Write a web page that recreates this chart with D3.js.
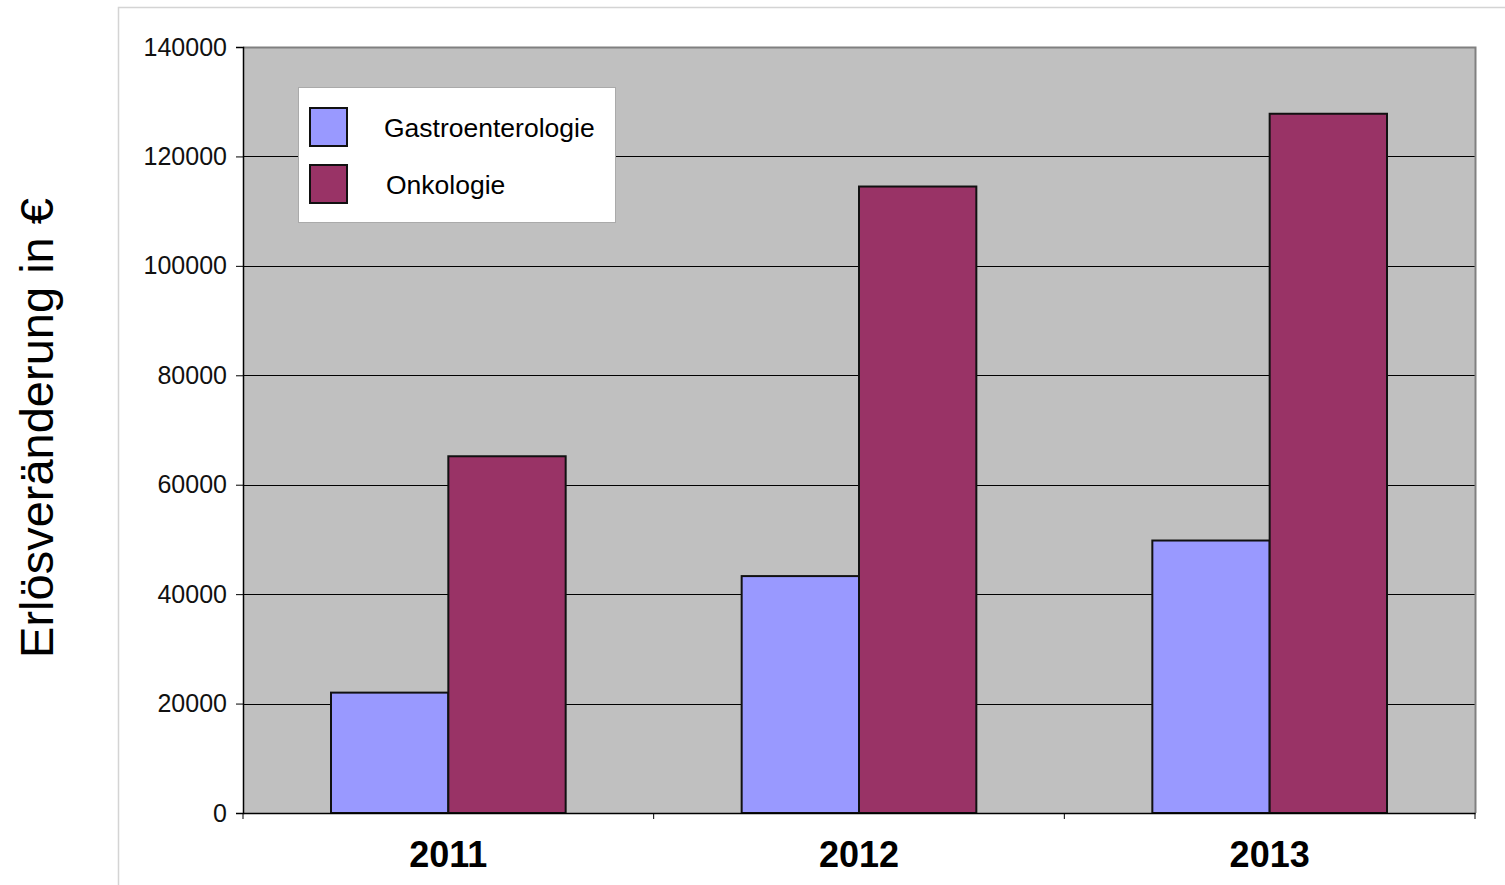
<!DOCTYPE html>
<html>
<head>
<meta charset="utf-8">
<script src="https://cdn.jsdelivr.net/npm/d3@7"></script>
<style>
  body { margin: 0; background: #fff; }
  svg { display: block; font-family: "Liberation Sans", Arial, sans-serif; }
</style>
</head>
<body>
<svg id="chart" width="1505" height="885"></svg>
<script>
var years       = ['2011', '2012', '2013'];
var seriesNames = ['Gastroenterologie', 'Onkologie'];
var gastro      = [22000, 43300, 49800];
var onko        = [65200, 114500, 127800];
var yTicks      = [0, 20000, 40000, 60000, 80000, 100000, 120000, 140000];
var colors      = ['#9999ff', '#993366'];

var svg = d3.select('#chart');
var pLeft = 243, pRight = 1475, pTop = 47, pBottom = 813;

// outer frame
svg.append('path')
   .attr('d', 'M118.5,885 V7.5 H1505')
   .attr('fill', 'none')
   .attr('stroke', '#d4d4d4')
   .attr('stroke-width', 1.5);

var x0 = d3.scaleBand().domain(years).range([pLeft, pRight]);
var x1 = d3.scaleBand().domain(seriesNames)
           .range([0, x0.bandwidth()]).paddingOuter(0.75).paddingInner(0);
var y  = d3.scaleLinear().domain([0, 140000]).range([pBottom, pTop]);

// plot background
svg.append('rect')
   .attr('x', pLeft).attr('y', pTop)
   .attr('width', pRight - pLeft).attr('height', pBottom - pTop)
   .attr('fill', '#c0c0c0');

// gridlines
svg.append('g').selectAll('line')
   .data(yTicks.slice(1, -1))
   .enter().append('line')
   .attr('x1', pLeft).attr('x2', pRight)
   .attr('y1', function(d) { return Math.round(y(d)) + 0.5; })
   .attr('y2', function(d) { return Math.round(y(d)) + 0.5; })
   .attr('stroke', '#000').attr('stroke-width', 1);

// top / right border
svg.append('path')
   .attr('d', 'M' + pLeft + ',' + (pTop + 0.5) + ' H' + (pRight + 0.5) + ' V' + pBottom)
   .attr('fill', 'none').attr('stroke', '#808080').attr('stroke-width', 2);

// bars
var rows = years.map(function(yr, i) {
  return { year: yr, values: [gastro[i], onko[i]] };
});
var groups = svg.append('g').selectAll('g')
   .data(rows).enter().append('g')
   .attr('transform', function(d) { return 'translate(' + x0(d.year) + ',0)'; });
groups.selectAll('rect')
   .data(function(d) { return d.values.map(function(v, j) { return { s: seriesNames[j], v: v, c: colors[j] }; }); })
   .enter().append('rect')
   .attr('x', function(d) { return x1(d.s); })
   .attr('y', function(d) { return y(d.v); })
   .attr('width', x1.bandwidth())
   .attr('height', function(d) { return pBottom - y(d.v); })
   .attr('fill', function(d) { return d.c; })
   .attr('stroke', '#111').attr('stroke-width', 2);

// y axis
var yAxis = svg.append('g')
   .attr('transform', 'translate(' + pLeft + ',0)')
   .call(d3.axisLeft(y).tickValues(yTicks).tickSize(7).tickPadding(9).tickFormat(d3.format('d')));
yAxis.select('.domain').attr('stroke', '#000').attr('stroke-width', 1.5);
yAxis.selectAll('text').attr('font-size', 25).attr('fill', '#111').attr('font-family', 'Liberation Sans, Arial, sans-serif');

// x axis
var xAxis = svg.append('g')
   .attr('transform', 'translate(0,' + pBottom + ')')
   .call(d3.axisBottom(x0).tickSize(0).tickPadding(28));
xAxis.select('.domain').attr('stroke', '#000').attr('stroke-width', 1.5);
xAxis.selectAll('text').attr('font-size', 36).attr('font-weight', 'bold').attr('fill', '#000')
     .attr('font-family', 'Liberation Sans, Arial, sans-serif');
svg.append('g').selectAll('line')
   .data(d3.range(years.length + 1))
   .enter().append('line')
   .attr('x1', function(i) { return pLeft + i * x0.step(); })
   .attr('x2', function(i) { return pLeft + i * x0.step(); })
   .attr('y1', pBottom).attr('y2', pBottom + 6)
   .attr('stroke', '#000').attr('stroke-width', 1);

// y title
svg.append('text')
   .attr('transform', 'translate(53,428) rotate(-90)')
   .attr('text-anchor', 'middle')
   .attr('font-size', 47)
   .attr('fill', '#000')
   .text('Erlösveränderung in €');

// legend
var legend = svg.append('g');
legend.append('rect')
   .attr('x', 298.5).attr('y', 87.5).attr('width', 317).attr('height', 135)
   .attr('fill', '#fff').attr('stroke', '#aaa').attr('stroke-width', 1);
seriesNames.forEach(function(name, i) {
  legend.append('rect')
     .attr('x', 310).attr('y', 108 + i * 57).attr('width', 37).attr('height', 38)
     .attr('fill', colors[i]).attr('stroke', '#111').attr('stroke-width', 2);
  legend.append('text')
     .attr('x', i === 0 ? 384 : 386).attr('y', 137 + i * 57)
     .attr('font-size', 26.5).attr('fill', '#000')
     .text(name);
});
</script>
</body>
</html>
